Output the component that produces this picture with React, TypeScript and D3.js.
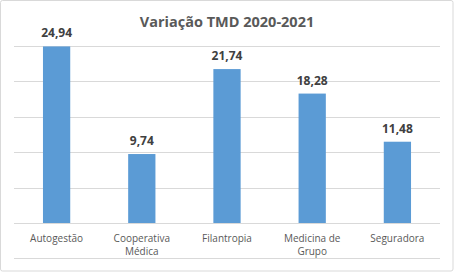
import React from "react";
import * as d3 from "d3";

const categories = ["Autogestão", "Cooperativa Médica", "Filantropia", "Medicina de Grupo", "Seguradora"];
const categoryLines = [["Autogestão"], ["Cooperativa", "Médica"], ["Filantropia"], ["Medicina de", "Grupo"], ["Seguradora"]];
const values = [24.94, 9.74, 21.74, 18.28, 11.48];
const ticks = [0, 5, 10, 15, 20, 25];
const title = "Variação TMD 2020-2021";

export default function App() {
  const W = 454, H = 272;
  const left = 14, right = 440, top = 46, bottom = 223;
  const x = d3.scaleBand<string>().domain(categories).range([left, right]).paddingInner(0.68).paddingOuter(0.34);
  const y = d3.scaleLinear().domain([0, 25]).range([bottom, top]);
  const fmt = (v: number) => v.toFixed(2).replace(".", ",");
  return (
    <div style={{ position: "fixed", left: 0, top: 0 }}>
      <svg width={W} height={H} style={{ display: "block" }}>
        <rect x={0} y={0} width={W} height={H} fill="#fff" />
        <rect x={0.5} y={0.5} width={W - 1.5} height={H - 1.5} rx={2} fill="none" stroke="#d9d9d9" />
        <text x={227} y={27} textAnchor="middle" fontFamily="'Open Sans', sans-serif" fontWeight={700} fontSize={14.5} fill="#595959">{title}</text>
        {ticks.map((t) => (
          <line key={t} x1={left} x2={right} y1={Math.round(y(t)) + 0.5} y2={Math.round(y(t)) + 0.5} stroke="#d9d9d9" />
        ))}
        <line x1={left} x2={right} y1={258.5} y2={258.5} stroke="#d9d9d9" />
        {categories.map((c, i) => (
          <rect key={c} x={x(c)!} width={x.bandwidth()} y={y(values[i])} height={y(0) - y(values[i])} fill="#5b9bd5" />
        ))}
        {categories.map((c, i) => (
          <text key={c} x={x(c)! + x.bandwidth() / 2} y={y(values[i]) - 9} textAnchor="middle" fontFamily="'Open Sans', sans-serif" fontWeight={700} fontSize={12} fill="#404040">{fmt(values[i])}</text>
        ))}
        {categories.map((c, i) => (
          <text key={c} x={x(c)! + x.bandwidth() / 2} textAnchor="middle" fontFamily="'Open Sans', sans-serif" fontSize={10} fill="#595959">
            {categoryLines[i].map((l, j) => (
              <tspan key={j} x={x(c)! + x.bandwidth() / 2} y={242 + j * 13}>{l}</tspan>
            ))}
          </text>
        ))}
      </svg>
    </div>
  );
}
